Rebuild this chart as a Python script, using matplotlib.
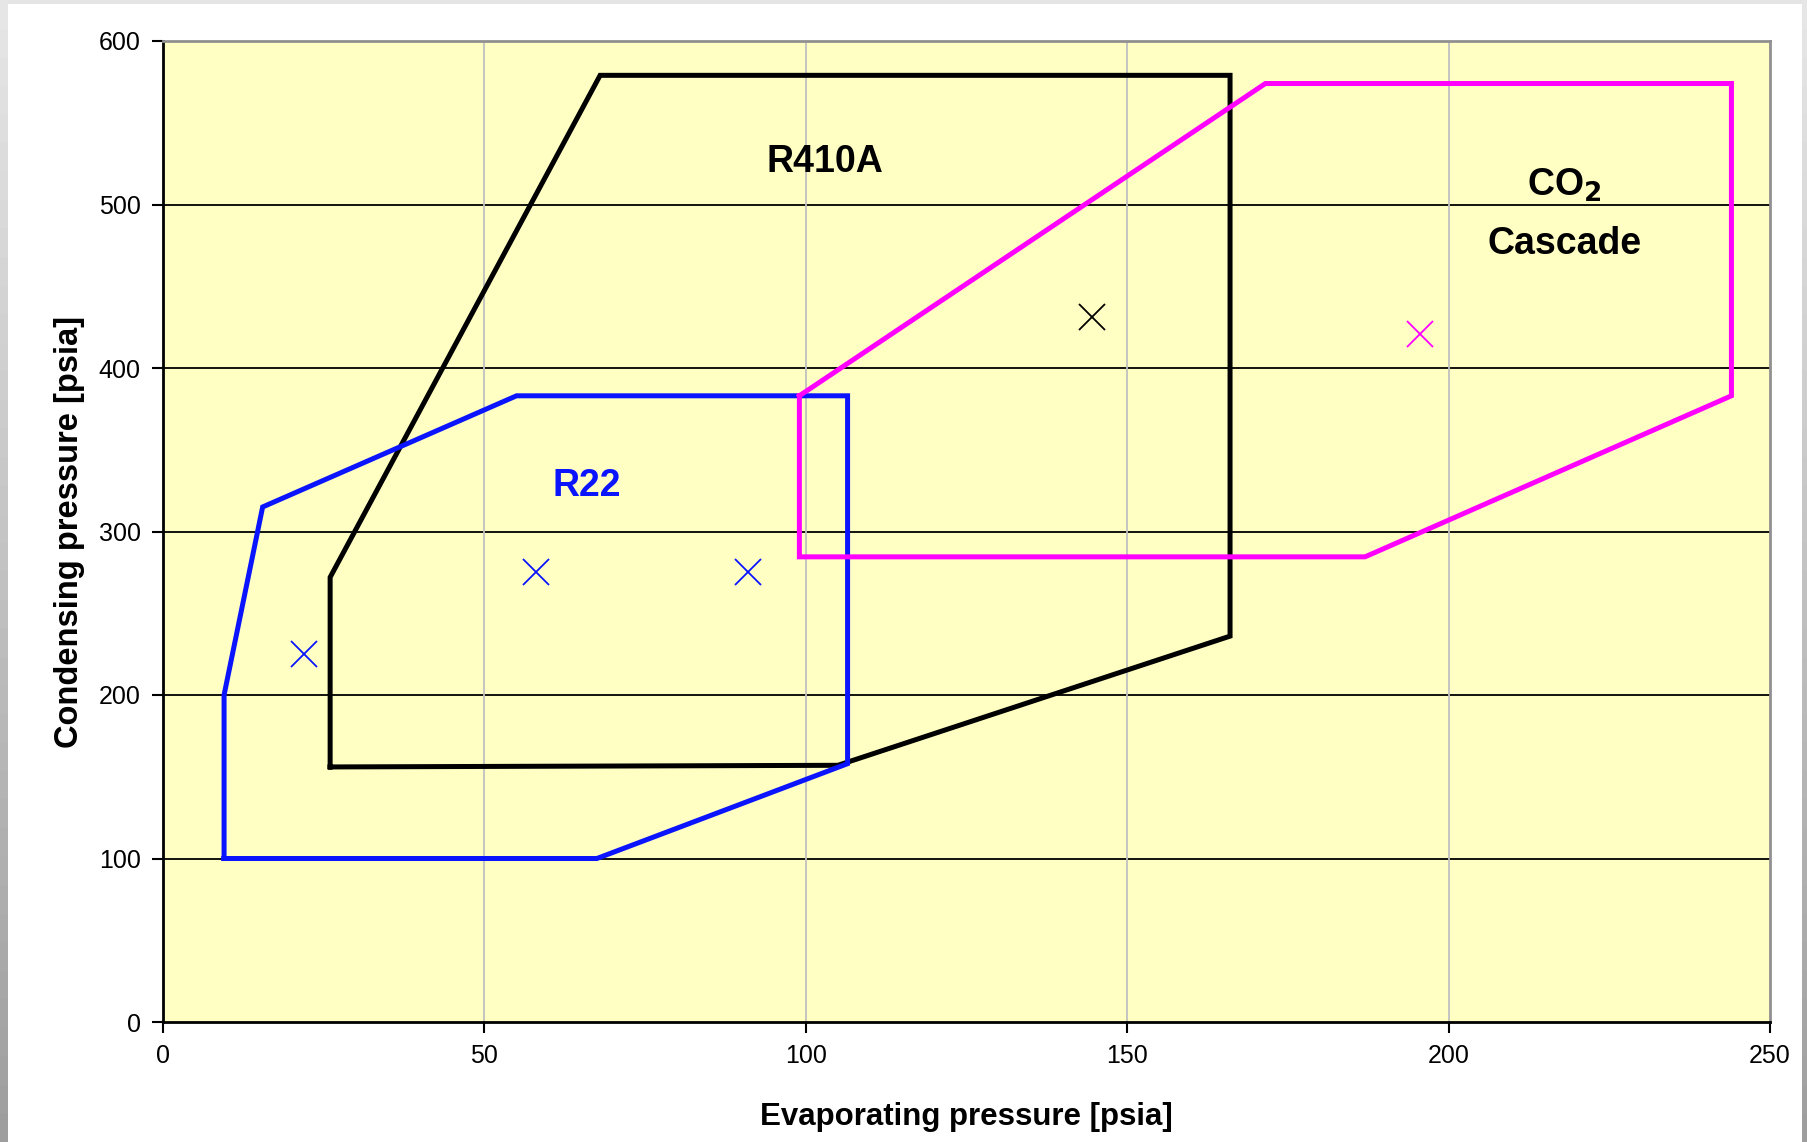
import matplotlib
matplotlib.use("Agg")
import matplotlib.pyplot as plt
from matplotlib.patches import Rectangle

plt.rcParams['font.family'] = ['Liberation Sans', 'DejaVu Sans']

# R410A envelope (evap, cond)
r410a_x = [26, 26, 68, 166, 166, 105, 26]
r410a_y = [156, 272, 579, 579, 236, 157, 156]
# R22 envelope
r22_x = [9.5, 9.5, 15.5, 55, 106.5, 106.5, 67.5, 9.5]
r22_y = [100, 200, 315, 383, 383, 158, 100, 100]
# CO2 cascade envelope
co2_x = [99, 99, 187, 244, 244, 171.5, 99]
co2_y = [383, 284.5, 284.5, 383, 574, 574, 383]

# rating points
r22_pts_x = [22, 58, 91]
r22_pts_y = [225, 275, 275]
r410a_pts_x = [144.5]
r410a_pts_y = [431]
co2_pts_x = [195.5]
co2_pts_y = [421]

xticks = [0, 50, 100, 150, 200, 250]
yticks = [0, 100, 200, 300, 400, 500, 600]

W, H = 1807, 1142
fig = plt.figure(figsize=(W/100, H/100), dpi=100)
fig.patch.set_facecolor('#e4e4e4')
fig.patches.append(Rectangle((8/W, 0), (1802-8)/W, (H-4)/H, transform=fig.transFigure,
                             facecolor='white', edgecolor='none', zorder=-10))
# gradient side strips (frame decoration)
n = 40
for i in range(n):
    g = 0.90 - 0.28 * (1 - i / (n - 1))
    fig.patches.append(Rectangle((0, i / n), 8/W, 1.0 / n + 0.001, transform=fig.transFigure,
                                 facecolor=(g, g, g), edgecolor='none', zorder=-10))
    fig.patches.append(Rectangle((1802/W, i / n), 5/W, 1.0 / n + 0.001, transform=fig.transFigure,
                                 facecolor=(g, g, g), edgecolor='none', zorder=-10))

ax = fig.add_axes([163/W, 1 - 1022/H, (1770-163)/W, (1022-41)/H])
ax.set_facecolor('#ffffc4')
ax.set_xlim(0, 250)
ax.set_ylim(0, 600)
ax.set_xticks(xticks)
ax.set_yticks(yticks)
ax.tick_params(labelsize=18, length=8, width=1.5, direction='out', pad=8)
for s in ['left', 'bottom']:
    ax.spines[s].set_color('black')
    ax.spines[s].set_linewidth(2)
for s in ['top', 'right']:
    ax.spines[s].set_color('#909090')
    ax.spines[s].set_linewidth(2)

for y in yticks[1:-1]:
    ax.axhline(y, color='black', lw=1.3, zorder=1)
for x in xticks[1:-1]:
    ax.axvline(x, color='#c0c0c0', lw=1.3, zorder=1)

ax.plot(r410a_x, r410a_y, color='black', lw=3.6, zorder=3, solid_joinstyle='miter')
ax.plot(r22_x, r22_y, color='#0a14ff', lw=3.6, zorder=3, solid_joinstyle='miter')
ax.plot(co2_x, co2_y, color='#ff00ff', lw=3.6, zorder=3, solid_joinstyle='miter')

ax.plot(r22_pts_x, r22_pts_y, 'x', color='#0a14ff', ms=19, mew=1.3, zorder=4)
ax.plot(r410a_pts_x, r410a_pts_y, 'x', color='black', ms=19, mew=1.3, zorder=4)
ax.plot(co2_pts_x, co2_pts_y, 'x', color='#ff00ff', ms=19, mew=1.3, zorder=4)

lab = dict(fontsize=27, fontweight='bold', ha='center', va='center', zorder=5)
ax.text(103, 526, 'R410A', **lab)
ax.text(66, 328, 'R22', color='#0a14ff', **lab)
ax.text(218, 512, r'CO$_\mathbf{2}$', **lab)
ax.text(218, 476, 'Cascade', **lab)

ax.set_xlabel('Evaporating pressure [psia]', fontsize=22.5, fontweight='bold', labelpad=24)
ax.set_ylabel('Condensing pressure [psia]', fontsize=23.5, fontweight='bold', labelpad=10)

fig.savefig('out.png', dpi=100)
